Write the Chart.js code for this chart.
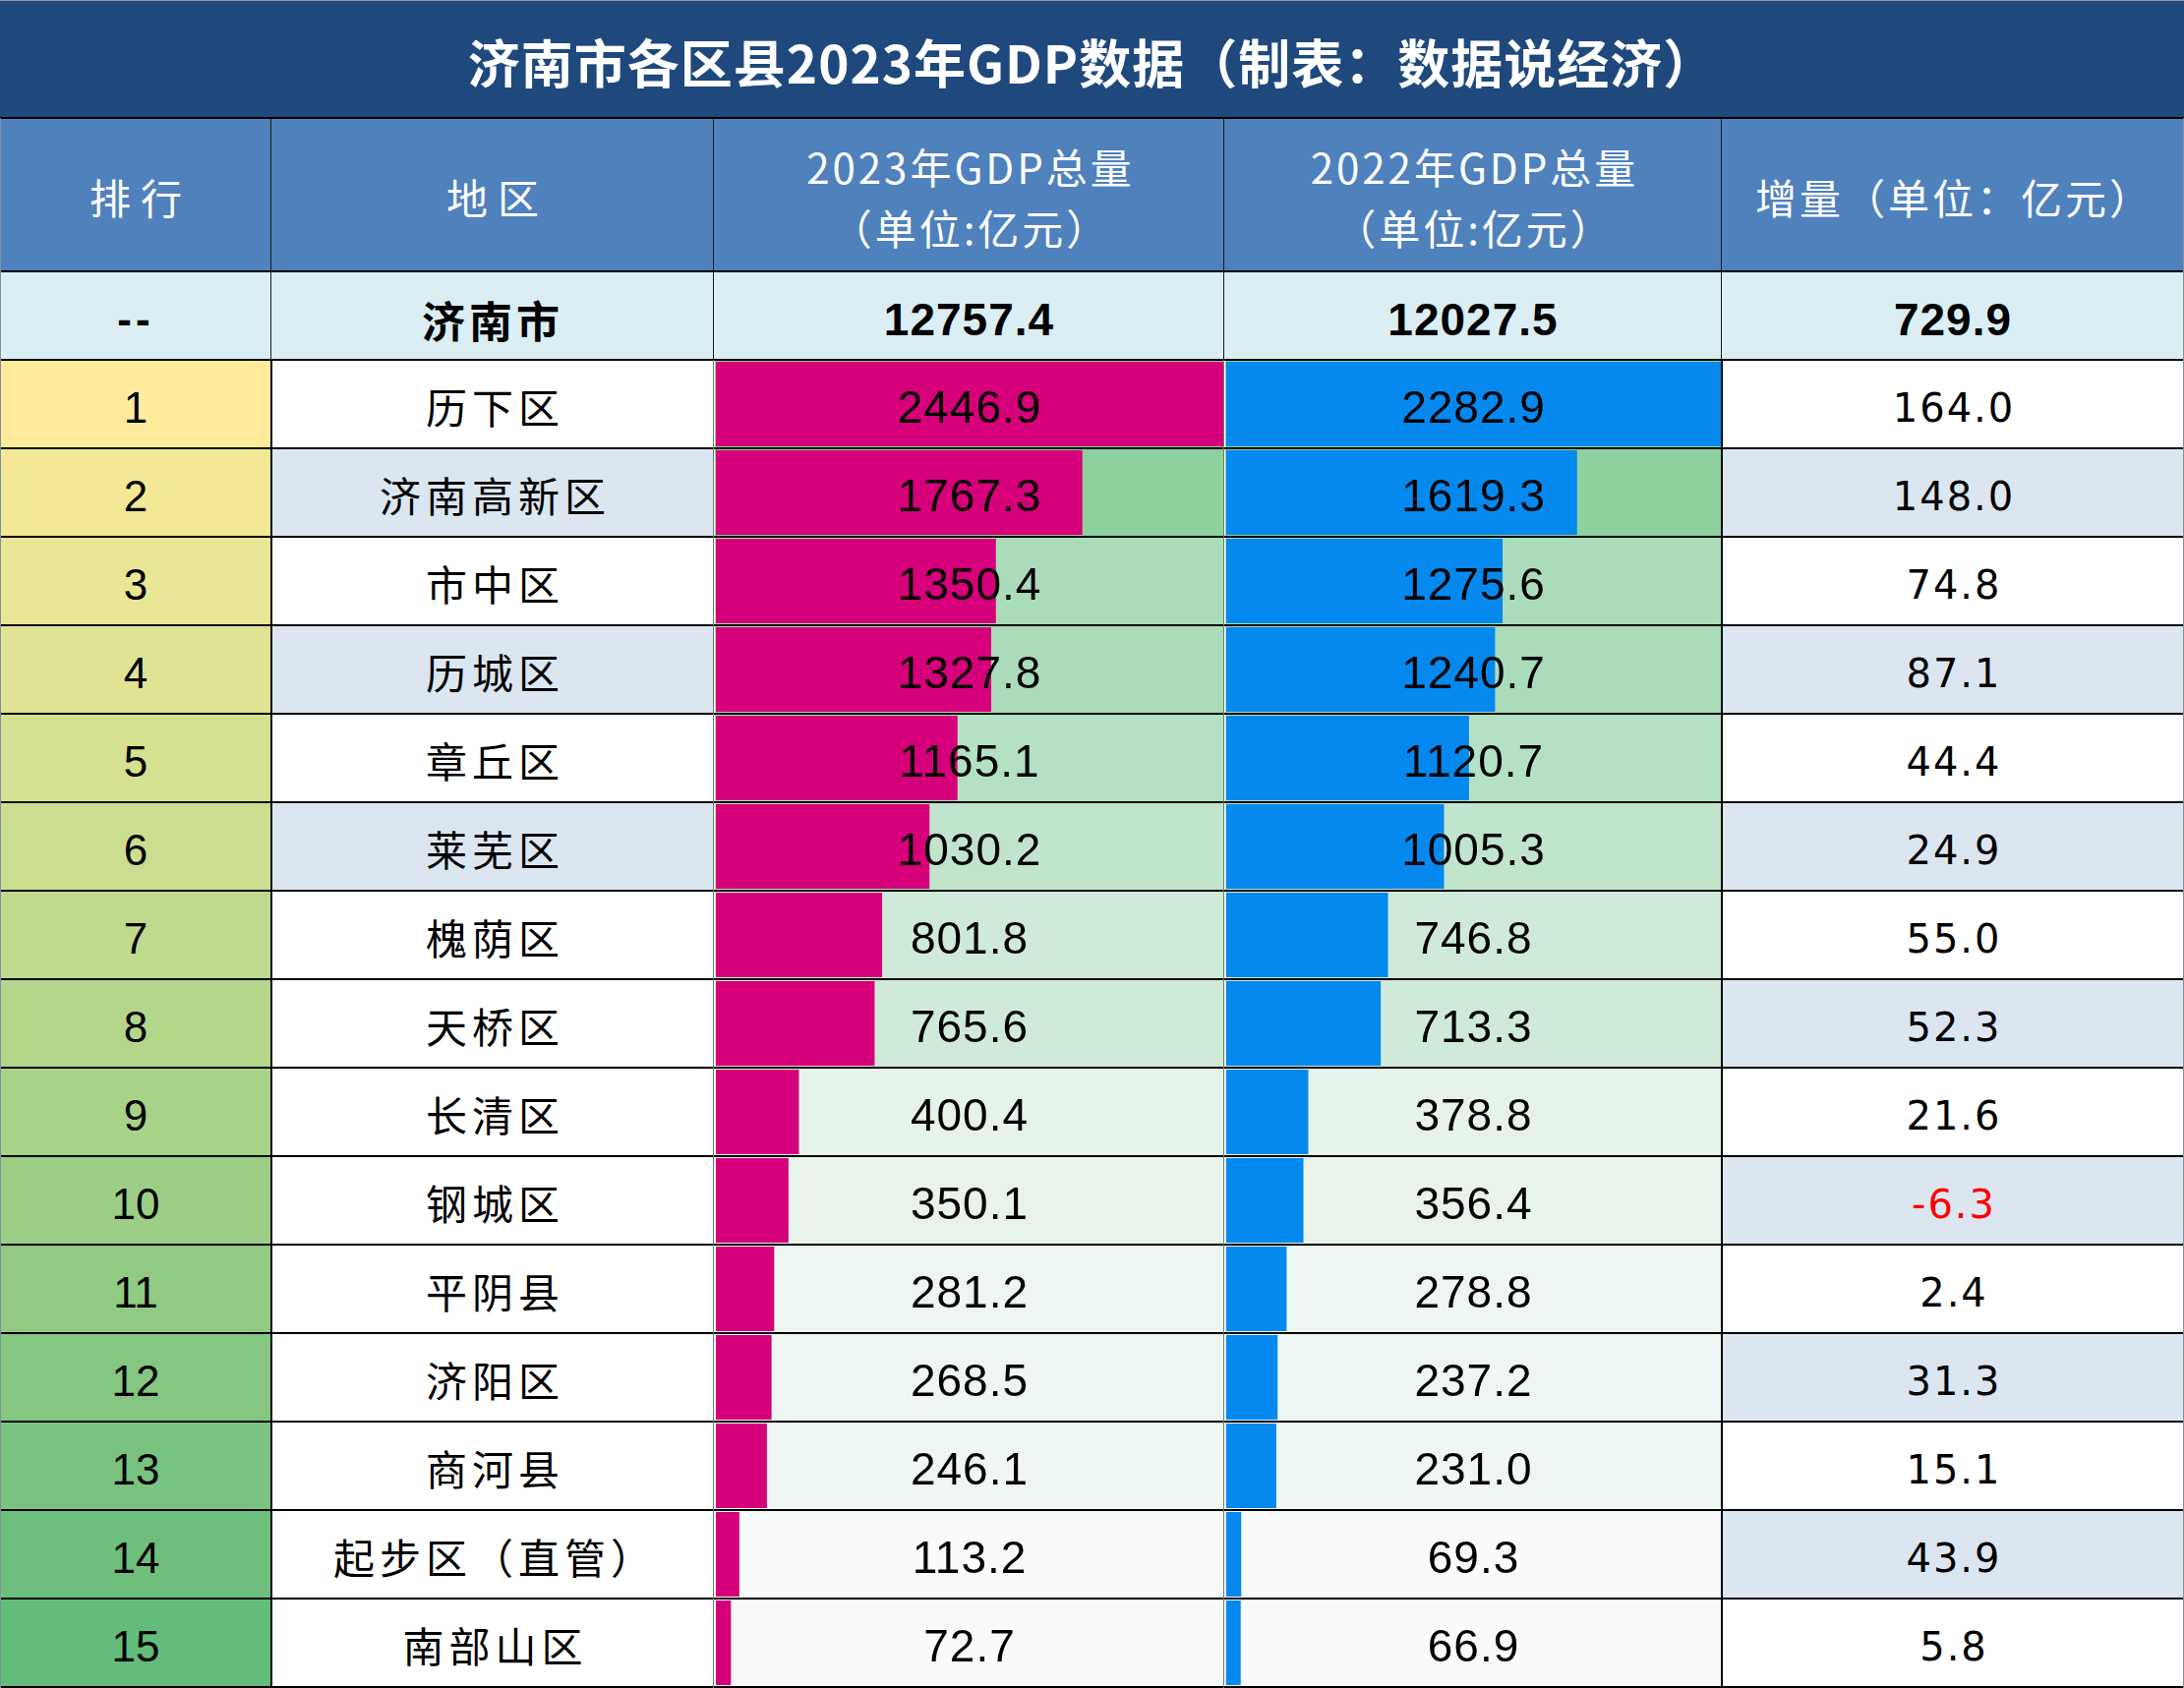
<!DOCTYPE html>
<html lang="zh-CN">
<head>
<meta charset="utf-8">
<title>济南市各区县2023年GDP数据</title>
<script src="https://cdn.jsdelivr.net/npm/chart.js@4.4.1/dist/chart.umd.min.js"></script>
<style>
  html, body { margin: 0; padding: 0; background: #ffffff; }
  #sheet {
    position: relative;
    width: 2221px;
    height: 1717px;
    overflow: hidden;
    font-family: "Noto Sans CJK SC", sans-serif;
  }
  .cell {
    position: absolute;
    display: flex;
    align-items: center;
    justify-content: center;
    box-sizing: border-box;
    text-align: center;
    white-space: nowrap;
  }
  .bars { position: absolute; }
  .line { position: absolute; z-index: 5; }
</style>
</head>
<body>
<div id="sheet"></div>
<script>
const title = "济南市各区县2023年GDP数据（制表：数据说经济）";
const headers = ["排行", "地区", "2023年GDP总量<br>（单位:亿元）", "2022年GDP总量<br>（单位:亿元）", "增量（单位：亿元）"];

const cityName = "济南市";
const cityGdp2023 = 12757.4;
const cityGdp2022 = 12027.5;
const cityIncrement = 729.9;

const ranks = ["1", "2", "3", "4", "5", "6", "7", "8", "9", "10", "11", "12", "13", "14", "15"];
const districts = ["历下区", "济南高新区", "市中区", "历城区", "章丘区", "莱芜区", "槐荫区", "天桥区",
  "长清区", "钢城区", "平阴县", "济阳区", "商河县", "起步区（直管）", "南部山区"];
const gdp2023 = [2446.9, 1767.3, 1350.4, 1327.8, 1165.1, 1030.2, 801.8, 765.6, 400.4, 350.1, 281.2, 268.5, 246.1, 113.2, 72.7];
const gdp2022 = [2282.9, 1619.3, 1275.6, 1240.7, 1120.7, 1005.3, 746.8, 713.3, 378.8, 356.4, 278.8, 237.2, 231.0, 69.3, 66.9];
const increment = [164.0, 148.0, 74.8, 87.1, 44.4, 24.9, 55.0, 52.3, 21.6, -6.3, 2.4, 31.3, 15.1, 43.9, 5.8];

// estilos (colores)
const rankFills = ["#ffeb9c", "#f3e896", "#e9e695", "#dfe393", "#d5e191", "#cbde8f", "#c0da8d", "#b3d68a",
  "#a7d288", "#9cce86", "#90ca83", "#85c681", "#7ac27f", "#6fbf7c", "#63bc7a"];
const barCellFills = ["#8fd09f", "#8fd09f", "#aadcb9", "#aadcb9", "#b4e0c3", "#c0e4cc", "#d0ead9", "#d0ead9",
  "#e5f3ea", "#e8f3ec", "#edf6f0", "#eef6f1", "#eff7f2", "#f8fafc", "#f8fafc"];
const nameFills = ["#ffffff", "#dce6f1", "#ffffff", "#dce6f1", "#ffffff", "#dce6f1", "#ffffff", "#ffffff",
  "#ffffff", "#ffffff", "#ffffff", "#ffffff", "#ffffff", "#ffffff", "#ffffff"];

const COLS = [0, 276, 726, 1245, 1751, 2221];
const TITLE_H = 120;
const HEAD_TOP = 120;
const HEAD_H = 156;
const CITY_TOP = 276;
const CITY_H = 90;
const ROWS_TOP = 366;
const ROW_H = 90;

const sheet = document.getElementById("sheet");

function addCell(x, y, w, h, html, style) {
  const div = document.createElement("div");
  div.className = "cell";
  div.style.left = x + "px";
  div.style.top = y + "px";
  div.style.width = w + "px";
  div.style.height = h + "px";
  div.innerHTML = html;
  Object.assign(div.style, style || {});
  sheet.appendChild(div);
  return div;
}

function addLine(x, y, w, h, color) {
  const div = document.createElement("div");
  div.className = "line";
  div.style.left = x + "px";
  div.style.top = y + "px";
  div.style.width = w + "px";
  div.style.height = h + "px";
  div.style.background = color;
  sheet.appendChild(div);
}

function colW(c) {
  return COLS[c + 1] - COLS[c];
}

// titulo
addCell(0, 0, 2221, TITLE_H, title, {
  background: "#1f497d",
  color: "#ffffff",
  fontSize: "53px",
  fontWeight: "700",
  letterSpacing: "1px",
  paddingTop: "4px"
});

// cabecera
headers.forEach((h, c) => {
  addCell(COLS[c], HEAD_TOP, colW(c), HEAD_H, h, {
    background: "#4f81bd",
    color: "#ffffff",
    fontSize: "42px",
    lineHeight: "62px",
    letterSpacing: c < 2 ? "10px" : "3px",
    paddingLeft: c < 2 ? "10px" : "3px",
    paddingTop: "4px"
  });
});

// fila del total
const cityTexts = ["--", cityName, cityGdp2023.toFixed(1), cityGdp2022.toFixed(1), cityIncrement.toFixed(1)];
cityTexts.forEach((t, c) => {
  const numeric = c >= 2;
  addCell(COLS[c], CITY_TOP, colW(c), CITY_H, t, {
    background: "#daeef3",
    color: "#000000",
    fontSize: numeric ? "46px" : "44px",
    fontWeight: "700",
    fontFamily: numeric || c === 0 ? "'Liberation Sans', sans-serif" : "'Noto Sans CJK SC', sans-serif",
    letterSpacing: numeric ? "1px" : "4px",
    paddingTop: "7px"
  });
});

// filas de distritos
districts.forEach((name, i) => {
  const y = ROWS_TOP + i * ROW_H;
  addCell(COLS[0], y, colW(0), ROW_H, ranks[i], {
    background: rankFills[i],
    fontSize: "44px",
    fontFamily: "'Liberation Sans', sans-serif",
    paddingTop: "7px"
  });
  addCell(COLS[1], y, colW(1), ROW_H, name, {
    background: nameFills[i],
    fontSize: "42px",
    letterSpacing: "5px",
    paddingLeft: "5px",
    paddingTop: "2px"
  });
  addCell(COLS[4], y, colW(4), ROW_H, increment[i].toFixed(1), {
    background: i % 2 === 1 ? "#dce6f1" : "#ffffff",
    color: increment[i] < 0 ? "#ff0000" : "#000000",
    fontSize: "40px",
    fontFamily: "'DejaVu Sans', sans-serif",
    letterSpacing: "2px",
    paddingLeft: "2px",
    paddingTop: "7px"
  });
});

// barras de datos dibujadas con Chart.js
const cellPlugin = {
  id: "cellPlugin",
  beforeDatasetsDraw(chart, args, opts) {
    const { ctx, chartArea, scales } = chart;
    ctx.save();
    chart.data.labels.forEach((_, i) => {
      const y = scales.y.getPixelForValue(i);
      ctx.fillStyle = opts.fills[i];
      ctx.fillRect(chartArea.left - 1, y - ROW_H / 2, chartArea.width + 2, ROW_H);
    });
    ctx.restore();
  },
  afterDatasetsDraw(chart) {
    const { ctx, chartArea, scales } = chart;
    const values = chart.data.datasets[0].data;
    const cx = (chartArea.left + chartArea.right) / 2;
    ctx.save();
    ctx.font = '46px "Liberation Sans"';
    ctx.letterSpacing = "1px";
    ctx.fillStyle = "#000000";
    ctx.textAlign = "center";
    ctx.textBaseline = "middle";
    values.forEach((v, i) => {
      ctx.fillText(v.toFixed(1), cx, scales.y.getPixelForValue(i) + 6);
    });
    ctx.restore();
  }
};

function drawBarColumn(col, values, color) {
  const w = colW(col);
  const h = districts.length * ROW_H;
  const wrap = document.createElement("div");
  wrap.className = "bars";
  wrap.style.left = COLS[col] + "px";
  wrap.style.top = ROWS_TOP + "px";
  wrap.style.width = w + "px";
  wrap.style.height = h + "px";
  const canvas = document.createElement("canvas");
  canvas.width = w;
  canvas.height = h;
  wrap.appendChild(canvas);
  sheet.appendChild(wrap);

  return new Chart(canvas, {
    type: "bar",
    data: {
      labels: districts,
      datasets: [
        {
          data: values,
          backgroundColor: color,
          borderWidth: 0,
          barPercentage: 0.955,
          categoryPercentage: 1
        }
      ]
    },
    options: {
      indexAxis: "y",
      responsive: false,
      animation: false,
      layout: {
        padding: { left: 2, right: 1, top: 0, bottom: 0 }
      },
      plugins: {
        legend: { display: false },
        tooltip: { enabled: false },
        cellPlugin: { fills: barCellFills }
      },
      scales: {
        x: {
          display: false,
          min: 0,
          max: Math.max(...values)
        },
        y: {
          display: false
        }
      }
    },
    plugins: [cellPlugin]
  });
}

drawBarColumn(2, gdp2023, "#d6007a");
drawBarColumn(3, gdp2022, "#0589ee");

// lineas de la tabla
const hLines = [HEAD_TOP, CITY_TOP, ROWS_TOP];
districts.forEach((_, i) => hLines.push(ROWS_TOP + (i + 1) * ROW_H));
hLines.forEach((y) => addLine(0, y - 1, 2221, 2, "#000000"));

[COLS[1], COLS[2], COLS[3], COLS[4]].forEach((x, k) => {
  addLine(x - 1, HEAD_TOP, 1, ROWS_TOP - HEAD_TOP, "#1a1a1a");
  const strong = k === 0 || k === 3;
  addLine(x - 1, ROWS_TOP, strong ? 2 : 1, 1717 - ROWS_TOP, strong ? "#000000" : "#6b7d70");
});
addLine(0, 0, 2221, 1, "#9a9a9a");
addLine(0, HEAD_TOP, 1, 1717 - HEAD_TOP, "#7f8fa6");
addLine(2220, HEAD_TOP, 1, 1717 - HEAD_TOP, "#7f8fa6");
</script>
</body>
</html>
